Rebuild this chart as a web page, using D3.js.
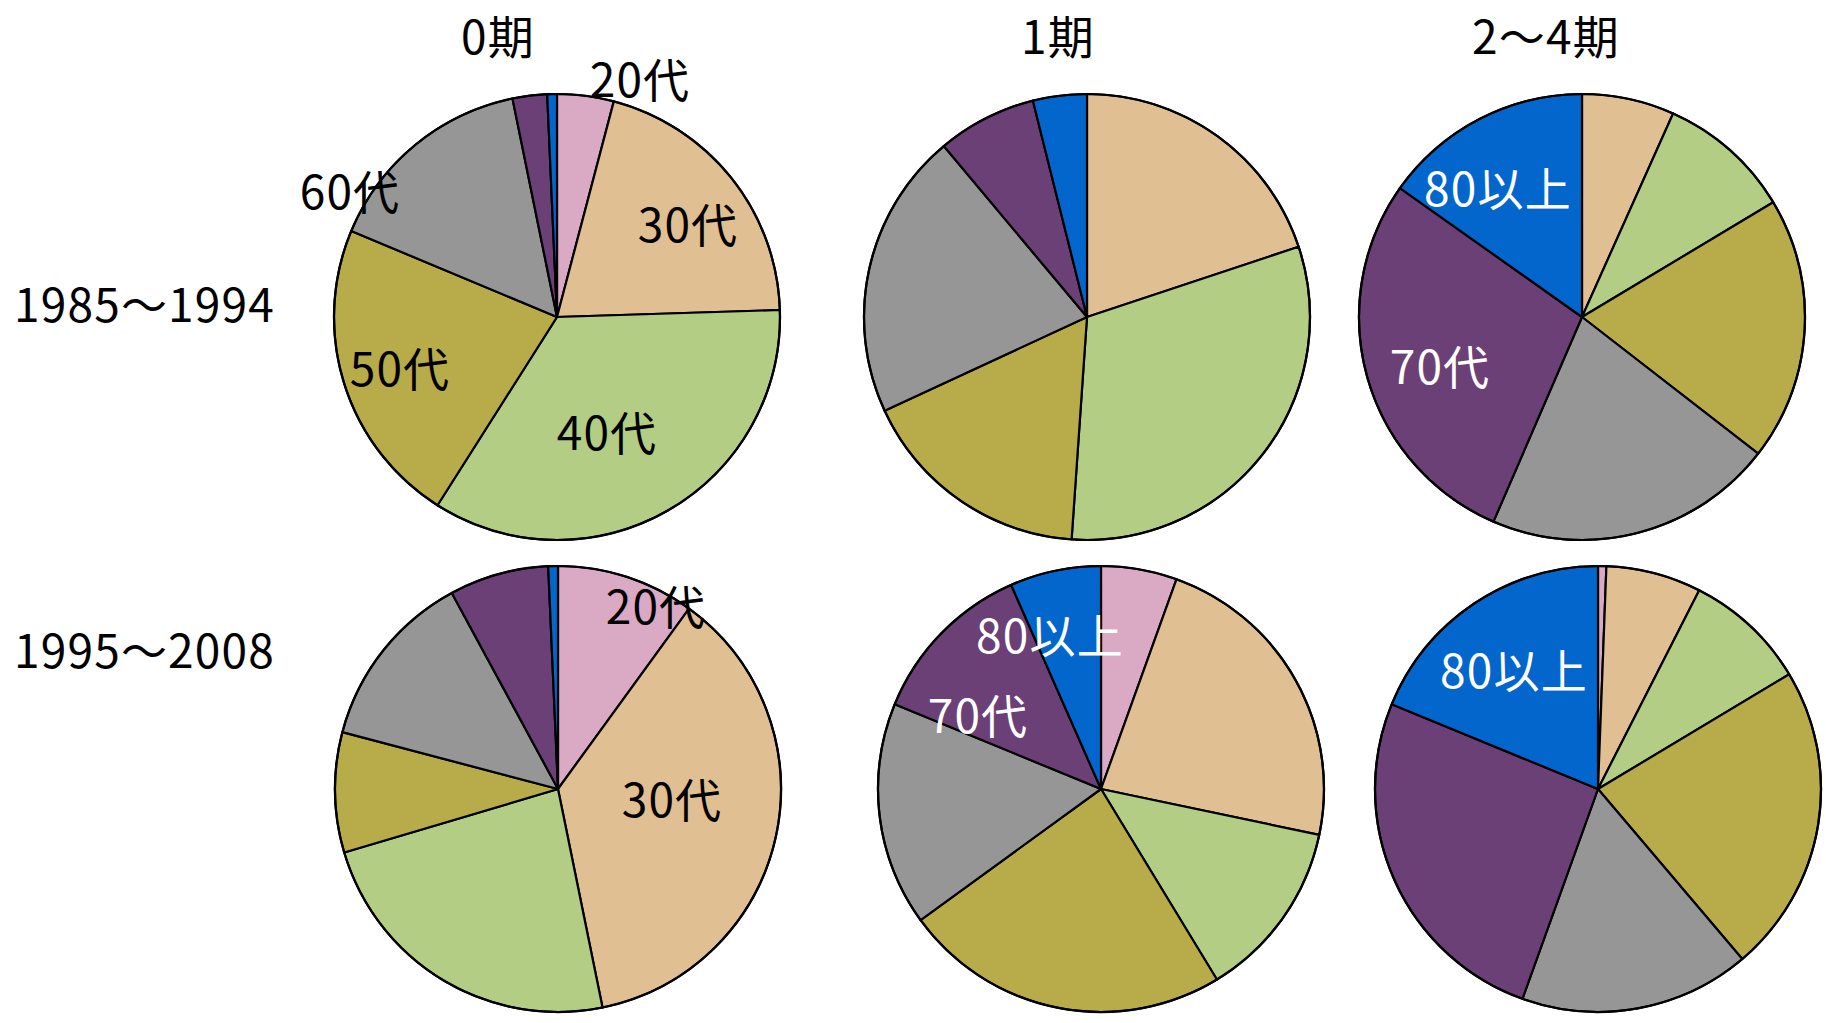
<!DOCTYPE html>
<html>
<head>
<meta charset="utf-8">
<script src="https://cdn.jsdelivr.net/npm/d3@7"></script>
<style>
  html, body { margin: 0; padding: 0; background: #fff; }
  svg { display: block; }
  text { font-family: "Noto Sans CJK JP", "Noto Sans", sans-serif; letter-spacing: 1.2px; }
</style>
</head>
<body>
<svg id="chart" width="1826" height="1023"></svg>
<script>
// Age groups and their slice colours
const ageGroups = ["20代", "30代", "40代", "50代", "60代", "70代", "80以上"];
const ageColors = ["#DAA9C3", "#E0BF92", "#B3CD85", "#B8AB4A", "#969696", "#6A4076", "#0366CC"];

// Column (stage) and row (period) headings
const stageLabels = ["0期", "1期", "2～4期"];
const periodLabels = ["1985～1994", "1995～2008"];

// Share of each age group (%), per period and stage
const p1985_stage0  = [4.1, 20.4, 34.5, 22.3, 15.5, 2.5, 0.7];
const p1985_stage1  = [0, 19.9, 31.2, 17.0, 20.8, 7.2, 3.9];
const p1985_stage24 = [0, 6.7, 9.7, 19.1, 21.0, 28.3, 15.2];
const p1995_stage0  = [10.0, 36.8, 23.6, 8.7, 13.0, 7.2, 0.7];
const p1995_stage1  = [5.5, 22.8, 13.0, 23.7, 16.2, 12.2, 6.6];
const p1995_stage24 = [0.6, 6.9, 8.9, 22.4, 16.7, 25.7, 18.8];

const shares = [
  [p1985_stage0, p1985_stage1, p1985_stage24],
  [p1995_stage0, p1995_stage1, p1995_stage24]
];

// Layout
const radius = 223;
const fontSize = 46;
const panelCenters = [
  [[557, 317], [1087, 317], [1582, 317]],
  [[558, 789], [1101, 789], [1598, 789]]
];
const titleX = [498, 1058, 1546];
const titleY = 54;
const rowLabelX = 14;
const rowLabelY = [322, 668];

// In-slice labels: [row, col, age index, dx, dy, colour]
const sliceLabels = [
  [0, 0, 0, 83, -220, "#000"],
  [0, 0, 1, 131, -75, "#000"],
  [0, 0, 4, -207, -108, "#000"],
  [0, 0, 3, -157, 69, "#000"],
  [0, 0, 2, 50, 133, "#000"],
  [0, 2, 6, -84, -111, "#fff"],
  [0, 2, 5, -142, 67, "#fff"],
  [1, 0, 0, 98, -165, "#000"],
  [1, 0, 1, 114, 28, "#000"],
  [1, 1, 6, -51, -136, "#fff"],
  [1, 1, 5, -123, -56, "#fff"],
  [1, 2, 6, -84, -101, "#fff"]
];

const svg = d3.select("#chart");
const color = d3.scaleOrdinal().domain(ageGroups).range(ageColors);
const pie = d3.pie().sort(null).value(d => d.value).startAngle(0).endAngle(2 * Math.PI);
const arc = d3.arc().innerRadius(0).outerRadius(radius);

shares.forEach((row, ri) => {
  row.forEach((vals, ci) => {
    const [cx, cy] = panelCenters[ri][ci];
    const g = svg.append("g").attr("transform", `translate(${cx},${cy})`);
    const data = ageGroups.map((a, i) => ({ age: a, value: vals[i] }));
    g.selectAll("path")
      .data(pie(data).filter(d => d.data.value > 0))
      .join("path")
      .attr("d", arc)
      .attr("fill", d => color(d.data.age))
      .attr("stroke", "#000")
      .attr("stroke-width", 2.2)
      .attr("stroke-linejoin", "round");
    g.append("circle")
      .attr("r", radius)
      .attr("fill", "none")
      .attr("stroke", "#000")
      .attr("stroke-width", 2.2);
  });
});

// Slice labels
sliceLabels.forEach(([ri, ci, ai, dx, dy, fill]) => {
  const [cx, cy] = panelCenters[ri][ci];
  svg.append("text")
    .attr("x", cx + dx)
    .attr("y", cy + dy)
    .attr("text-anchor", "middle")
    .attr("font-size", fontSize)
    .attr("fill", fill)
    .text(ageGroups[ai]);
});

// Column titles
svg.selectAll("text.stage")
  .data(stageLabels)
  .join("text")
  .attr("class", "stage")
  .attr("x", (d, i) => titleX[i])
  .attr("y", titleY)
  .attr("text-anchor", "middle")
  .attr("font-size", fontSize)
  .attr("fill", "#000")
  .text(d => d);

// Row titles
svg.selectAll("text.period")
  .data(periodLabels)
  .join("text")
  .attr("class", "period")
  .attr("x", rowLabelX)
  .attr("y", (d, i) => rowLabelY[i])
  .attr("font-size", fontSize)
  .attr("fill", "#000")
  .text(d => d);
</script>
</body>
</html>
